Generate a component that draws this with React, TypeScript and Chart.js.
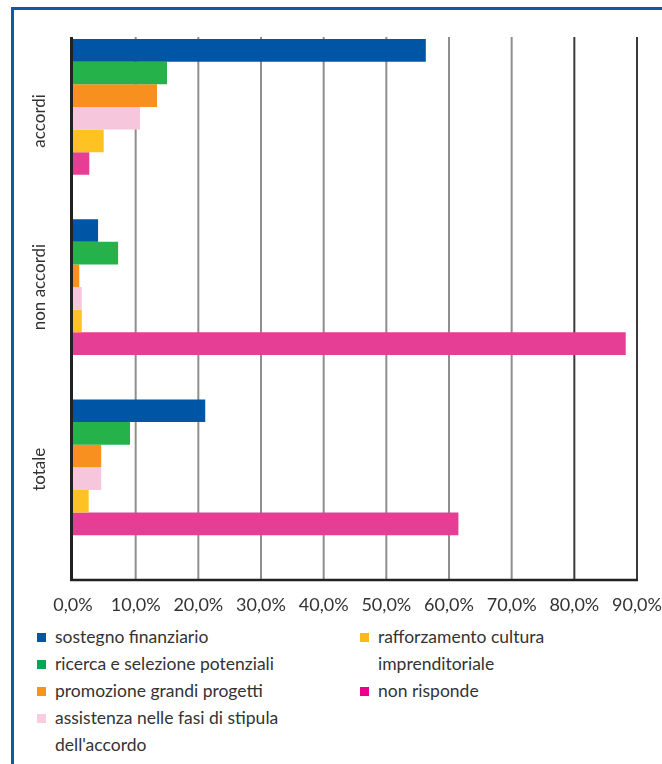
import React, { useEffect, useRef } from "react";
import { Chart, registerables } from "chart.js";

Chart.register(...registerables);

const categories = ["accordi", "non accordi", "totale"];

const seriesNames = [
  "sostegno finanziario",
  "ricerca e selezione potenziali",
  "promozione grandi progetti",
  "assistenza nelle fasi di stipula dell'accordo",
  "rafforzamento cultura imprenditoriale",
  "non risponde",
];

const sostegnoFinanziario = [56.3, 4.0, 21.1];
const ricercaSelezione = [15.0, 7.2, 9.1];
const promozioneProgetti = [13.4, 1.0, 4.5];
const assistenzaStipula = [10.7, 1.4, 4.5];
const rafforzamentoCultura = [4.9, 1.4, 2.5];
const nonRisponde = [2.6, 88.2, 61.5];

const seriesData = [
  sostegnoFinanziario,
  ricercaSelezione,
  promozioneProgetti,
  assistenzaStipula,
  rafforzamentoCultura,
  nonRisponde,
];

const seriesColors = ["#0055a5", "#25b24b", "#f7901e", "#f6c6dc", "#ffc222", "#e63e94"];
const legendColors = ["#0055a5", "#00a651", "#f7941d", "#f9cde0", "#fdb913", "#ec008c"];

const xTickValues = [0, 10, 20, 30, 40, 50, 60, 70, 80, 90];
const xTickLabels = ["0,0%", "10,0%", "20,0%", "30,0%", "40,0%", "50,0%", "60,0%", "70,0%", "80,0%", "90,0%"];

// legend layout: column index and wrapped lines for each series
const legendColumns = [0, 0, 0, 0, 1, 1];
const legendLines = [
  ["sostegno finanziario"],
  ["ricerca e selezione potenziali"],
  ["promozione grandi progetti"],
  ["assistenza nelle fasi di stipula", "dell'accordo"],
  ["rafforzamento cultura", "imprenditoriale"],
  ["non risponde"],
];

const FONT = "Lato, 'Open Sans', sans-serif";
const TEXT = "#333333";
const CATEGORY_LABEL_SHIFT = [14, 0, 2];

const framePlugin = {
  id: "framePlugin",
  beforeDatasetsDraw(chart: any) {
    const { ctx, chartArea, scales } = chart;
    const x = scales.x;
    const top = chartArea.top + 20.2;
    const bottom = chartArea.bottom + 22.6;
    ctx.save();
    xTickValues.forEach((v) => {
      if (v === 0) return;
      const px = x.getPixelForValue(v);
      ctx.strokeStyle = v >= 80 ? "#3a3a3a" : "#8e8e8e";
      ctx.lineWidth = 2;
      ctx.beginPath();
      ctx.moveTo(px, top);
      ctx.lineTo(px, bottom);
      ctx.stroke();
    });
    ctx.restore();
  },
  afterDatasetsDraw(chart: any) {
    const { ctx, chartArea, scales } = chart;
    const x = scales.x;
    const top = chartArea.top + 20.2;
    const bottom = chartArea.bottom + 22.6;
    const x0 = x.getPixelForValue(0) - 1.5;
    const x9 = x.getPixelForValue(90);
    ctx.save();
    ctx.strokeStyle = "#222222";
    ctx.lineWidth = 3;
    ctx.beginPath();
    ctx.moveTo(x0, top);
    ctx.lineTo(x0, bottom + 1);
    ctx.stroke();
    ctx.lineWidth = 2.5;
    ctx.beginPath();
    ctx.moveTo(x0 - 1.5, bottom);
    ctx.lineTo(x9 + 1, bottom);
    ctx.stroke();
    ctx.restore();
  },
  afterDraw(chart: any) {
    const { ctx, scales } = chart;
    const y = scales.y;
    ctx.save();
    ctx.fillStyle = TEXT;
    ctx.font = `17px ${FONT}`;
    ctx.textAlign = "center";
    ctx.textBaseline = "middle";
    categories.forEach((label, i) => {
      const py = y.getPixelForValue(i) + CATEGORY_LABEL_SHIFT[i];
      ctx.save();
      ctx.translate(40, py);
      ctx.rotate(-Math.PI / 2);
      ctx.fillText(label, 0, 0);
      ctx.restore();
    });
    ctx.restore();
  },
};

export default function App() {
  const canvasRef = useRef<HTMLCanvasElement | null>(null);

  useEffect(() => {
    if (!canvasRef.current) return;
    const chart = new Chart(canvasRef.current, {
      type: "bar",
      data: {
        labels: categories,
        datasets: seriesNames.map((name, i) => ({
          label: name,
          data: seriesData[i],
          backgroundColor: seriesColors[i],
          borderWidth: 0,
          categoryPercentage: 0.753,
          barPercentage: 1,
        })),
      },
      options: {
        indexAxis: "y",
        responsive: false,
        animation: false,
        layout: { padding: { top: 16.8, right: 25, left: 0, bottom: 0 } },
        plugins: {
          legend: { display: false },
          tooltip: { enabled: false },
        },
        scales: {
          x: {
            min: 0,
            max: 90,
            afterBuildTicks: (scale: any) => {
              scale.ticks = xTickValues.map((v) => ({ value: v }));
            },
            ticks: {
              callback: (_v: any, i: number) => xTickLabels[i],
              font: { family: FONT, size: 18 },
              color: TEXT,
              padding: 37,
              maxRotation: 0,
            },
            grid: { display: false, drawTicks: false },
            border: { display: false },
            afterFit: (scale: any) => {
              scale.height = 62.6;
              scale.paddingLeft = 0;
              scale.paddingRight = 0;
            },
          },
          y: {
            ticks: { display: false },
            grid: { display: false, drawTicks: false },
            border: { display: false },
            afterFit: (scale: any) => {
              scale.width = 73;
              scale.paddingTop = 0;
              scale.paddingBottom = 0;
            },
          },
        },
      } as any,
      plugins: [framePlugin],
    });
    return () => chart.destroy();
  }, []);

  const colLeft = [37, 360];
  const rowH = 27;
  const legendTop = 622.5;
  const colRow = [0, 0];

  return (
    <div
      style={{
        position: "fixed",
        left: 0,
        top: 0,
        width: 662,
        height: 764,
        background: "#ffffff",
        overflow: "hidden",
        fontFamily: FONT,
      }}
    >
      <div
        style={{
          position: "absolute",
          left: 11,
          top: 7,
          width: 700,
          height: 800,
          borderLeft: "3px solid #1158a6",
          borderTop: "3px solid #1158a6",
          boxSizing: "border-box",
        }}
      />
      <canvas
        ref={canvasRef}
        width={662}
        height={620}
        style={{ position: "absolute", left: 0, top: 0, width: 662, height: 620 }}
      />
      {seriesNames.map((name, i) => {
        const col = legendColumns[i];
        const row = colRow[col];
        colRow[col] += legendLines[i].length;
        const top = legendTop + row * rowH;
        return (
          <div
            key={name}
            style={{
              position: "absolute",
              left: colLeft[col],
              top,
              color: TEXT,
              fontSize: 17.5,
              lineHeight: `${rowH}px`,
            }}
          >
            <span
              style={{
                position: "absolute",
                left: 0,
                top: 10,
                width: 9,
                height: 9,
                background: legendColors[i],
              }}
            />
            <div style={{ marginLeft: 18, whiteSpace: "nowrap" }}>
              {legendLines[i].map((line, k) => (
                <div key={k}>{line}</div>
              ))}
            </div>
          </div>
        );
      })}
    </div>
  );
}
